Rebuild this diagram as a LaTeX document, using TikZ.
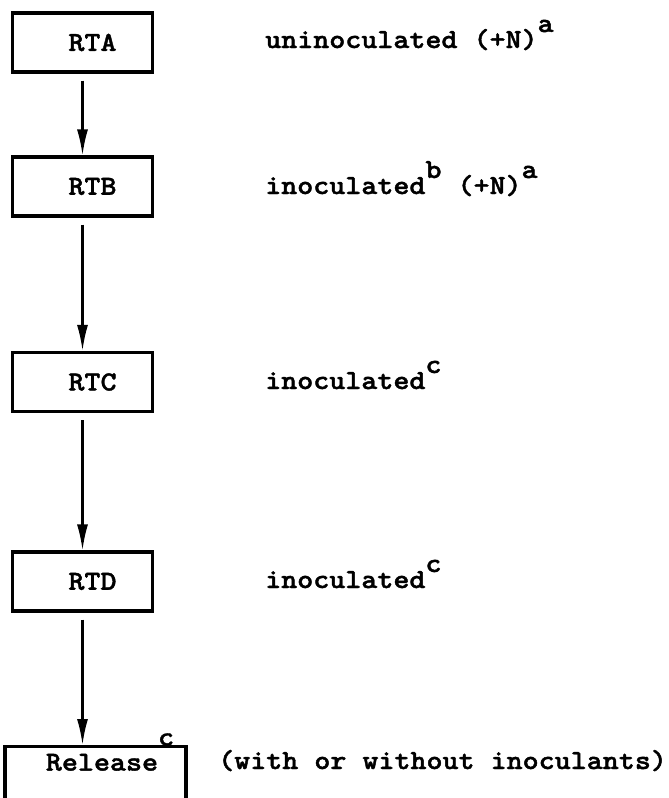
\documentclass[tikz,border=0pt]{standalone}
\usepackage{fontspec}
\newfontfamily\typer{lmmonolt10-bold.otf}[FakeStretch=1.11, FakeBold=1.5]
\usepackage{tikz}
\usetikzlibrary{arrows.meta}

\newcommand{\upmark}[2][16pt]{\raisebox{#1}{#2}}

\begin{document}
\begin{tikzpicture}[x=1pt, y=-1pt, >={Latex[length=26pt, width=11pt]},
    stage/.style={draw, line width=3.2pt, minimum width=140pt, minimum height=59pt,
      inner sep=0pt, font=\typer\fontsize{27.5}{30}\selectfont,
      execute at begin node={\hspace*{20pt}}},
    note/.style={anchor=base west, inner sep=0pt,
      font=\typer\fontsize{27.5}{30}\selectfont},
    flow/.style={line width=2.2pt, ->, shorten <=7pt}]

  \useasboundingbox (0, 0) rectangle (669, 798);

%%%%%%%%%%%% Stages
  \node[stage] (rta) at (82.5, 42.5) {RTA};
  \node[stage] (rtb) at (82.5, 186.5) {RTB};
  \node[stage] (rtc) at (82.5, 382) {RTC};
  \node[stage] (rtd) at (82.5, 581.5) {RTD};
  \node[stage, anchor=north, minimum width=181pt, minimum height=0pt,
    text height=24pt, text depth=40pt,
    execute at begin node={\hspace*{9pt}}] (rel) at (95.5, 745) {Release\upmark[25pt]{c}};

%%%%%%%%%%%% Notes
  \node[note] (na) at (265, 48) {uninoculated (+N)\upmark{a}};
  \node[note] (nb) at (265, 194) {inoculated\upmark{b} (+N)\upmark{a}};
  \node[note] (nc) at (265, 389) {inoculated\upmark{c}};
  \node[note] (nd) at (265, 588) {inoculated\upmark{c}};
  \node[note] (nr) at (218, 769) {(with or without inoculants)};

%%%%%%%%%%%% Flow
  \draw[flow] (rta) -- (rtb);
  \draw[flow] (rtb) -- (rtc);
  \draw[flow] (rtc) -- (rtd);
  \draw[flow] (rtd) -- (rtd |- rel.north);
\end{tikzpicture}
\end{document}
